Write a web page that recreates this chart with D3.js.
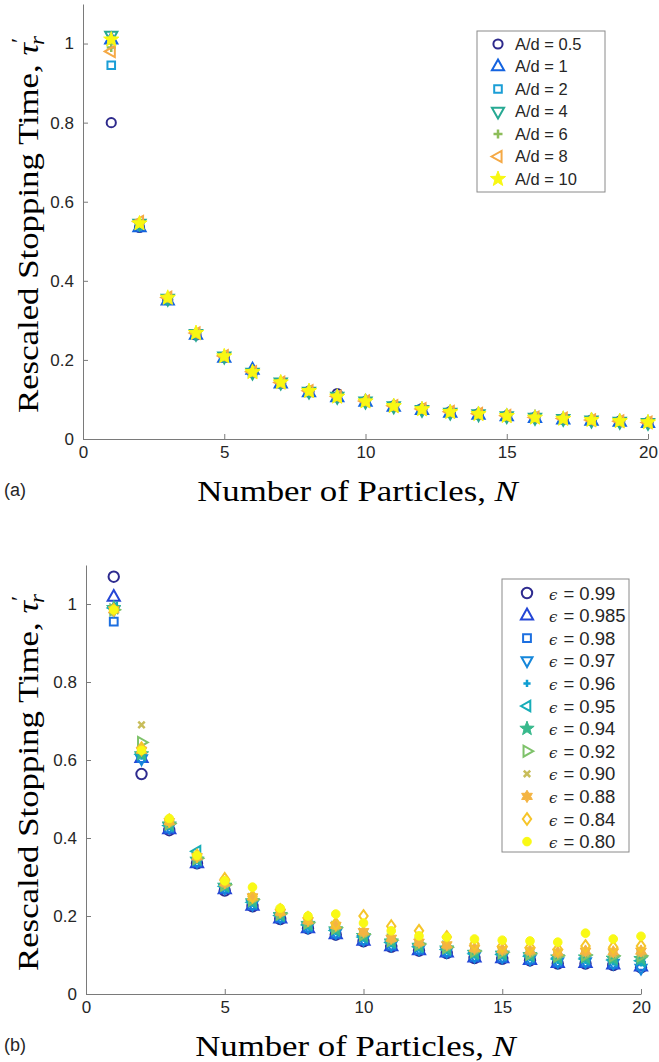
<!DOCTYPE html>
<html>
<head>
<meta charset="utf-8">
<script src="https://cdn.jsdelivr.net/npm/d3@7"></script>
<style>
  body { margin: 0; background: #fff; }
  svg { display: block; }
  .tick text { font-family: "Liberation Sans", Arial, sans-serif; font-size: 17px; fill: #262626; }
  .tick line, .domain { stroke: #7a7a7a; }
</style>
</head>
<body>
<svg id="chart" width="659" height="1062"></svg>
<script>
// ---- data ----
var xTicks = [0, 5, 10, 15, 20];
var yTicks = [0, 0.2, 0.4, 0.6, 0.8, 1];
var particles = [1, 2, 3, 4, 5, 6, 7, 8, 9, 10, 11, 12, 13, 14, 15, 16, 17, 18, 19, 20];

// panel (a): aspect ratio A/d
var adNames = ["A/d = 0.5", "A/d = 1", "A/d = 2", "A/d = 4", "A/d = 6", "A/d = 8", "A/d = 10"];
var tauAd05 = [0.80, 0.535, 0.352, 0.263, 0.207, 0.168, 0.141, 0.121, 0.115, 0.095, 0.084, 0.077, 0.069, 0.064, 0.059, 0.055, 0.051, 0.048, 0.045, 0.042];
var tauAd1  = [1.01, 0.535, 0.350, 0.263, 0.205, 0.175, 0.140, 0.118, 0.105, 0.094, 0.081, 0.073, 0.066, 0.061, 0.057, 0.053, 0.049, 0.046, 0.043, 0.040];
var tauAd2  = [0.945, 0.540, 0.352, 0.265, 0.207, 0.167, 0.141, 0.119, 0.107, 0.093, 0.082, 0.075, 0.067, 0.062, 0.057, 0.054, 0.050, 0.046, 0.043, 0.041];
var tauAd4  = [1.02, 0.545, 0.355, 0.266, 0.209, 0.168, 0.143, 0.120, 0.107, 0.095, 0.083, 0.074, 0.067, 0.063, 0.058, 0.054, 0.051, 0.047, 0.044, 0.041];
var tauAd6  = [0.99, 0.545, 0.356, 0.267, 0.208, 0.169, 0.142, 0.121, 0.107, 0.094, 0.083, 0.075, 0.068, 0.063, 0.058, 0.054, 0.051, 0.047, 0.044, 0.042];
var tauAd8  = [0.98, 0.550, 0.358, 0.268, 0.210, 0.170, 0.143, 0.122, 0.108, 0.096, 0.084, 0.076, 0.069, 0.064, 0.059, 0.055, 0.052, 0.048, 0.045, 0.042];
var tauAd10 = [1.01, 0.545, 0.357, 0.268, 0.209, 0.169, 0.143, 0.121, 0.107, 0.095, 0.083, 0.075, 0.068, 0.063, 0.058, 0.054, 0.051, 0.048, 0.045, 0.042];

// panel (b): restitution coefficient epsilon
var epsNames = ["0.99", "0.985", "0.98", "0.97", "0.96", "0.95", "0.94", "0.92", "0.90", "0.88", "0.84", "0.80"];
var tauEps099  = [1.07, 0.564, 0.420, 0.335, 0.265, 0.225, 0.192, 0.168, 0.152, 0.135, 0.121, 0.111, 0.105, 0.092, 0.090, 0.086, 0.078, 0.078, 0.074, 0.068];
var tauEps0985 = [1.018, 0.605, 0.422, 0.335, 0.268, 0.226, 0.193, 0.168, 0.153, 0.136, 0.122, 0.112, 0.106, 0.093, 0.091, 0.087, 0.079, 0.079, 0.075, 0.070];
var tauEps098  = [0.955, 0.605, 0.425, 0.338, 0.270, 0.228, 0.195, 0.170, 0.155, 0.138, 0.124, 0.113, 0.107, 0.095, 0.093, 0.088, 0.081, 0.081, 0.077, 0.072];
var tauEps097  = [0.985, 0.603, 0.428, 0.340, 0.272, 0.230, 0.197, 0.172, 0.157, 0.140, 0.126, 0.116, 0.109, 0.097, 0.095, 0.090, 0.083, 0.083, 0.079, 0.066];
var tauEps096  = [0.99, 0.610, 0.430, 0.343, 0.274, 0.232, 0.199, 0.174, 0.160, 0.143, 0.129, 0.118, 0.111, 0.100, 0.098, 0.093, 0.086, 0.086, 0.082, 0.080];
var tauEps095  = [0.99, 0.615, 0.432, 0.366, 0.276, 0.235, 0.201, 0.177, 0.163, 0.146, 0.132, 0.121, 0.114, 0.103, 0.101, 0.097, 0.090, 0.090, 0.087, 0.085];
var tauEps094  = [0.99, 0.615, 0.435, 0.345, 0.278, 0.238, 0.203, 0.180, 0.166, 0.149, 0.135, 0.124, 0.117, 0.106, 0.104, 0.100, 0.094, 0.094, 0.091, 0.090];
var tauEps092  = [0.985, 0.645, 0.437, 0.348, 0.280, 0.242, 0.206, 0.183, 0.170, 0.153, 0.138, 0.128, 0.120, 0.110, 0.107, 0.103, 0.098, 0.100, 0.098, 0.098];
var tauEps090  = [0.985, 0.690, 0.440, 0.350, 0.282, 0.245, 0.208, 0.186, 0.173, 0.156, 0.140, 0.130, 0.123, 0.114, 0.110, 0.107, 0.102, 0.105, 0.103, 0.104];
var tauEps088  = [0.985, 0.625, 0.442, 0.352, 0.285, 0.249, 0.210, 0.188, 0.176, 0.160, 0.143, 0.133, 0.126, 0.117, 0.114, 0.111, 0.107, 0.110, 0.108, 0.110];
var tauEps084  = [0.985, 0.630, 0.445, 0.355, 0.295, 0.250, 0.215, 0.195, 0.180, 0.200, 0.174, 0.162, 0.146, 0.128, 0.123, 0.120, 0.115, 0.123, 0.120, 0.123];
var tauEps080  = [0.985, 0.625, 0.450, 0.355, 0.290, 0.274, 0.220, 0.200, 0.205, 0.182, 0.162, 0.149, 0.146, 0.141, 0.138, 0.136, 0.133, 0.156, 0.141, 0.148];

// ---- styles ----
var adColors  = ["#2e2a8c", "#1463e0", "#1b9ed6", "#27a993", "#8dbd5a", "#f5a945", "#f8f812"];
var adMarkers = ["o", "^", "s", "v", "+", "<", "p"];
var adSizes   = [4.6, 7, 3.8, 7, 4.5, 6.5, 8];

var epsColors  = ["#2e2b8f", "#2446d6", "#1c6fe0", "#1586da", "#0f9ed2", "#17adb8", "#38b98c", "#7ec26a", "#c8bd5a", "#f4b442", "#f6c52a", "#f9f915"];
var epsMarkers = ["o", "^", "s", "v", "+", "<", "p", ">", "x", "h", "d", "dot"];
var epsSizes   = [5.2, 7, 3.9, 6.3, 3.6, 6, 7.5, 6.3, 3.2, 6.2, 4.2, 4.3];

var svg = d3.select("#chart");

function markerPath(type, r) {
  var p = d3.path(), i, a, rr, k, inner;
  if (type === "o" || type === "dot") {
    p.moveTo(r, 0); p.arc(0, 0, r, 0, 2 * Math.PI);
  } else if (type === "s") {
    p.rect(-r, -r, 2 * r, 2 * r);
  } else if (type === "d") {
    p.moveTo(0, -r * 1.4); p.lineTo(r, 0); p.lineTo(0, r * 1.4); p.lineTo(-r, 0); p.closePath();
  } else if (type === "+") {
    p.moveTo(-r, 0); p.lineTo(r, 0); p.moveTo(0, -r); p.lineTo(0, r);
  } else if (type === "x") {
    p.moveTo(-r, -r); p.lineTo(r, r); p.moveTo(r, -r); p.lineTo(-r, r);
  } else if (type === "p" || type === "h") {
    k = type === "p" ? 5 : 6;
    inner = type === "p" ? 0.42 : 0.58;
    for (i = 0; i < 2 * k; i++) {
      a = -Math.PI / 2 + i * Math.PI / k;
      rr = i % 2 ? r * inner : r;
      if (i === 0) p.moveTo(rr * Math.cos(a), rr * Math.sin(a));
      else p.lineTo(rr * Math.cos(a), rr * Math.sin(a));
    }
    p.closePath();
  } else {
    // triangles, pointing up then rotated
    var rot = { "^": 0, "v": Math.PI, "<": -Math.PI / 2, ">": Math.PI / 2 }[type];
    var pts = [[0, -r], [0.87 * r, 0.55 * r], [-0.87 * r, 0.55 * r]];
    pts.forEach(function(q, j) {
      var xx = q[0] * Math.cos(rot) - q[1] * Math.sin(rot),
          yy = q[0] * Math.sin(rot) + q[1] * Math.cos(rot);
      if (j === 0) p.moveTo(xx, yy); else p.lineTo(xx, yy);
    });
    p.closePath();
  }
  return p.toString();
}

function styleMarker(sel, s) {
  var filled = s.type === "p" || s.type === "h" || s.type === "dot";
  sel.attr("d", markerPath(s.type, s.r))
    .attr("fill", filled ? s.color : "none")
    .attr("stroke", s.color)
    .attr("stroke-width", filled ? 1 : (s.type === "+" || s.type === "x" ? 2.5 : 2))
    .attr("stroke-linejoin", "miter");
}

function drawPanel(cfg) {
  var x = d3.scaleLinear().domain([0, 20]).range([cfg.left, cfg.right]);
  var y = d3.scaleLinear().domain([0, 1.1]).range([cfg.bottom, cfg.top]);

  svg.append("g")
    .attr("transform", "translate(0," + cfg.bottom + ")")
    .call(d3.axisBottom(x).tickValues(xTicks).tickFormat(d3.format("")).tickSize(-5).tickSizeOuter(0).tickPadding(7));

  svg.append("g")
    .attr("transform", "translate(" + cfg.left + ",0)")
    .call(d3.axisLeft(y).tickValues(yTicks).tickFormat(d3.format("")).tickSize(-5).tickSizeOuter(0).tickPadding(9));

  svg.selectAll(".tick text").attr("font-family", null).attr("font-size", null);

  // data markers
  cfg.series.forEach(function(s) {
    svg.append("g").selectAll("path")
      .data(s.values)
      .join("path")
      .attr("transform", function(d, i) { return "translate(" + x(particles[i]) + "," + y(d) + ")"; })
      .call(styleMarker, s);
  });

  // x label (serif, stretched a bit to look like Computer Modern)
  var xl = svg.append("text")
    .attr("transform", "translate(" + ((cfg.left + cfg.right) / 2 - 8) + "," + (cfg.bottom + 62) + ") scale(1.16,1)")
    .attr("text-anchor", "middle")
    .attr("font-family", "Liberation Serif, serif")
    .attr("font-size", 30)
    .attr("fill", "#000");
  xl.append("tspan").text("Number of Particles, ");
  xl.append("tspan").attr("font-style", "italic").text("N");

  // y label
  var yl = svg.append("text")
    .attr("transform", "translate(38," + ((cfg.top + cfg.bottom) / 2 + 3) + ") rotate(-90) scale(1.16,1)")
    .attr("text-anchor", "middle")
    .attr("font-family", "Liberation Serif, serif")
    .attr("font-size", 30)
    .attr("fill", "#000");
  yl.append("tspan").text("Rescaled Stopping Time, ");
  yl.append("tspan").attr("font-style", "italic").text("\u03C4");
  yl.append("tspan").attr("font-size", 20).attr("dy", -12).text("\u2032");
  yl.append("tspan").attr("font-size", 20).attr("font-style", "italic").attr("dx", -6).attr("dy", 18).text("r");

  // panel tag
  svg.append("text")
    .attr("x", 4)
    .attr("y", cfg.bottom + 57)
    .attr("font-family", "Liberation Sans, Arial, sans-serif")
    .attr("font-size", 18)
    .attr("fill", "#262626")
    .text(cfg.tag);

  // legend
  var lg = cfg.legend;
  svg.append("rect")
    .attr("x", lg.x).attr("y", lg.y)
    .attr("width", lg.w).attr("height", lg.h)
    .attr("fill", "#fff").attr("stroke", "#8a8a8a").attr("stroke-width", 1);

  cfg.series.forEach(function(s, i) {
    var cy = lg.y + lg.first + i * lg.step;
    svg.append("path")
      .attr("transform", "translate(" + lg.mx + "," + cy + ")")
      .call(styleMarker, s);
    var t = svg.append("text")
      .attr("x", lg.tx).attr("y", cy)
      .attr("dy", "0.36em")
      .attr("font-family", "Liberation Sans, Arial, sans-serif")
      .attr("font-size", lg.fs)
      .attr("fill", "#262626");
    if (lg.eps) {
      t.append("tspan").attr("font-family", "DejaVu Serif, serif").attr("font-style", "italic").attr("font-size", 15).text("\u03F5");
      t.append("tspan").attr("dx", 6).text("= " + s.name);
    } else {
      t.text(s.name);
    }
  });
}

var adValues = [tauAd05, tauAd1, tauAd2, tauAd4, tauAd6, tauAd8, tauAd10];
var epsValues = [tauEps099, tauEps0985, tauEps098, tauEps097, tauEps096, tauEps095, tauEps094, tauEps092, tauEps090, tauEps088, tauEps084, tauEps080];

drawPanel({
  left: 83, right: 648, top: 4, bottom: 439, tag: "(a)",
  series: adNames.map(function(n, i) {
    return { name: n, values: adValues[i], color: adColors[i], type: adMarkers[i], r: adSizes[i] };
  }),
  legend: { x: 477, y: 31, w: 128, h: 161, first: 13, step: 22.5, mx: 498, tx: 515, fs: 16.5, eps: false }
});

drawPanel({
  left: 86, right: 641, top: 565, bottom: 994, tag: "(b)",
  series: epsNames.map(function(n, i) {
    return { name: n, values: epsValues[i], color: epsColors[i], type: epsMarkers[i], r: epsSizes[i] };
  }),
  legend: { x: 502, y: 579, w: 127, h: 273, first: 14, step: 22.6, mx: 527, tx: 549, fs: 18.5, eps: true }
});
</script>
</body>
</html>
